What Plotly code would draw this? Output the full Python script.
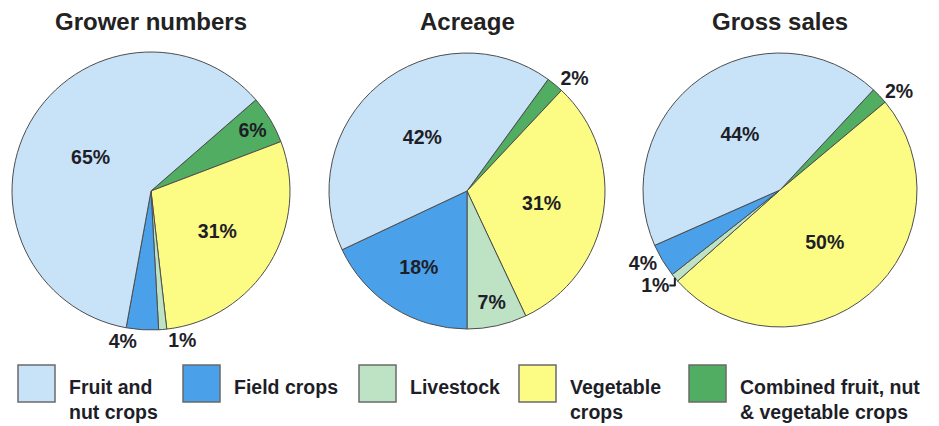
import plotly.graph_objects as go

# ---- data ----
categories = ["Fruit and nut crops", "Field crops", "Livestock",
              "Vegetable crops", "Combined fruit, nut & vegetable crops"]
legend_labels = ["Fruit and<br>nut crops", "Field crops", "Livestock",
                 "Vegetable<br>crops", "Combined fruit, nut<br>& vegetable crops"]
chart_titles = ["Grower numbers", "Acreage", "Gross sales"]
grower_numbers = [65, 4, 1, 31, 6]
acreage = [42, 18, 7, 31, 2]
gross_sales = [44, 4, 1, 50, 2]

# ---- styles / layout ----
colors = ["#c8e2f7", "#4aa1ea", "#bde2c4", "#fcfc84", "#51ad61"]
text_pos = [
    ["inside", "outside", "outside", "inside", "inside"],
    ["inside", "inside", "inside", "inside", "outside"],
    ["inside", "outside", "outside", "inside", "outside"],
]
rotations = [49, 36, 43]
W, H = 939, 426
centers = [(151, 191), (467, 191), (780, 190)]
radii = [139, 138, 137]
FONT = "Liberation Sans, Arial, Helvetica, sans-serif"
TXT = "#1e1e28"

series = [grower_numbers, acreage, gross_sales]

fig = go.Figure()
for k, vals in enumerate(series):
    cx, cy = centers[k]
    r = radii[k]
    fig.add_trace(go.Pie(
        labels=categories[::-1],
        values=vals[::-1],
        sort=False,
        direction="clockwise",
        rotation=rotations[k],
        marker=dict(colors=colors[::-1], line=dict(color="#4d4d4d", width=1)),
        textposition=text_pos[k][::-1],
        texttemplate="%{value}%",
        insidetextorientation="horizontal",
        textfont=dict(family=FONT, size=19.5, color=TXT, weight="bold"),
        showlegend=False,
        hoverinfo="label+value",
        domain=dict(x=[(cx - r) / W, (cx + r) / W],
                    y=[1 - (cy + r) / H, 1 - (cy - r) / H]),
    ))

annotations = []
for k, t in enumerate(chart_titles):
    annotations.append(dict(
        text="<b>%s</b>" % t, x=centers[k][0] / W, y=1 - 22 / H,
        xref="paper", yref="paper", xanchor="center", yanchor="middle",
        showarrow=False, font=dict(family=FONT, size=24, color="#222")))

# custom legend with large swatches
leg_x = [18, 183, 359, 519, 689]
box = 37
box_top = 365
shapes = []
for i, lab in enumerate(legend_labels):
    x0 = leg_x[i]
    shapes.append(dict(type="rect", xref="paper", yref="paper",
                       x0=x0 / W, x1=(x0 + box) / W,
                       y0=1 - (box_top + box) / H, y1=1 - box_top / H,
                       fillcolor=colors[i], line=dict(color="#6a6a6a", width=1.5)))
    annotations.append(dict(
        text="<b>%s</b>" % lab, x=(x0 + box + 12) / W, y=1 - 374 / H,
        xref="paper", yref="paper", xanchor="left", yanchor="top", align="left",
        showarrow=False, font=dict(family=FONT, size=19.5, color=TXT)))

fig.update_layout(
    width=W, height=H,
    margin=dict(l=0, r=0, t=0, b=0),
    paper_bgcolor="white", plot_bgcolor="white",
    uniformtext=dict(minsize=19.5, mode="show"),
    annotations=annotations, shapes=shapes,
    font=dict(family=FONT),
)

fig.write_html("out.html")
